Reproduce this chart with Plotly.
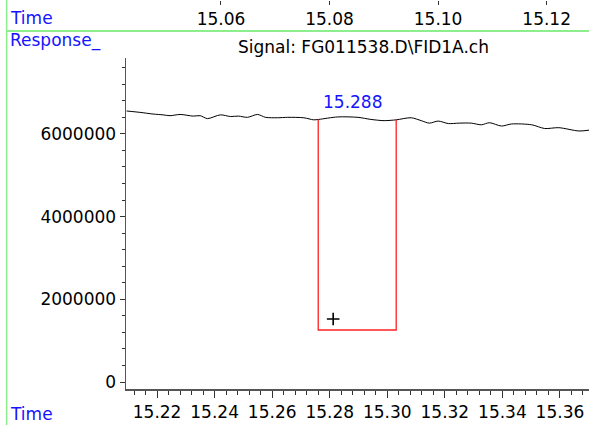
import plotly.graph_objects as go

# ---- data ----
time_min = [15.2094, 15.2141, 15.2186, 15.2221, 15.2245, 15.2280, 15.2326, 15.2350,
            15.2375, 15.2420, 15.2455, 15.2483, 15.2514, 15.2549, 15.2577, 15.2619,
            15.2654, 15.2710, 15.2744, 15.2762, 15.2828, 15.2898, 15.2943, 15.2989,
            15.3031, 15.3083, 15.3118, 15.3146, 15.3177, 15.3212, 15.3250, 15.3292,
            15.3327, 15.3355, 15.3397, 15.3432, 15.3502, 15.3547, 15.3596, 15.3666,
            15.3701]
response = [6554000, 6520000, 6480000, 6460000, 6440000, 6470000, 6430000, 6440000,
            6370000, 6460000, 6420000, 6430000, 6400000, 6470000, 6400000, 6390000,
            6400000, 6390000, 6340000, 6350000, 6410000, 6400000, 6350000, 6320000,
            6340000, 6390000, 6320000, 6260000, 6310000, 6250000, 6260000, 6260000,
            6220000, 6270000, 6190000, 6240000, 6220000, 6130000, 6150000, 6070000,
            6090000]

peak_start = 15.2760
peak_end = 15.3031
peak_top_start = 6350000
peak_top_end = 6340000
peak_baseline = 1258000
peak_label = "15.288"
peak_label_time = 15.288
peak_label_value = 6770000
cursor_time = [15.2812]
cursor_value = [1524000]

bottom_range = [15.2092, 15.3701]
top_range = [15.0425, 15.1278]
y_range = [-169000, 7836000]
y_ticks = [0, 2000000, 4000000, 6000000]
title_text = "Signal: FG011538.D\\FID1A.ch"

BLUE = "#1414ff"
GREEN = "#8cee8c"
FONT = "DejaVu Sans"

fig = go.Figure()

fig.add_trace(go.Scatter(
    x=time_min, y=response, mode="lines",
    line=dict(color="black", width=1, shape="spline", smoothing=0.8),
    hoverinfo="skip"))

fig.add_trace(go.Scatter(
    x=[peak_start, peak_start, peak_end, peak_end],
    y=[peak_top_start, peak_baseline, peak_baseline, peak_top_end],
    mode="lines", line=dict(color="#ff2020", width=1.3), hoverinfo="skip"))

fig.add_trace(go.Scatter(
    x=cursor_time, y=cursor_value, mode="markers",
    marker=dict(symbol="cross-thin", size=9, line=dict(color="black", width=1.6)),
    hoverinfo="skip"))

# invisible trace to carry the top time axis
fig.add_trace(go.Scatter(
    x=top_range, y=[None, None], xaxis="x2", mode="lines",
    line=dict(width=0), hoverinfo="skip", showlegend=False))

fig.add_annotation(x=peak_label_time, y=peak_label_value, text=peak_label,
                   showarrow=False, font=dict(family=FONT, size=17, color=BLUE),
                   xanchor="center", yanchor="middle")

fig.add_annotation(xref="paper", yref="paper", x=-0.2549, y=0.9537, text="Time",
                   showarrow=False, xanchor="left", yanchor="middle",
                   font=dict(family=FONT, size=17, color=BLUE))
fig.add_annotation(xref="paper", yref="paper", x=-0.2549, y=0.897, text="Response_",
                   showarrow=False, xanchor="left", yanchor="middle",
                   font=dict(family=FONT, size=17, color=BLUE))
fig.add_annotation(xref="paper", yref="paper", x=-0.2549, y=-0.0630, text="Time",
                   showarrow=False, xanchor="left", yanchor="middle",
                   font=dict(family=FONT, size=17, color=BLUE))
fig.add_annotation(xref="paper", yref="paper", x=0.512, y=0.879, text=title_text,
                   showarrow=False, xanchor="center", yanchor="middle",
                   font=dict(family=FONT, size=17, color="black"))

# green frame lines
fig.add_shape(type="line", xref="paper", yref="paper", x0=-0.2578, x1=-0.2578,
              y0=-0.0925, y1=1.0, line=dict(color=GREEN, width=1.5))
fig.add_shape(type="line", xref="paper", yref="paper", x0=-0.2578, x1=1.0,
              y0=0.9203, y1=0.9203, line=dict(color=GREEN, width=2))

fig.update_layout(
    width=589, height=425,
    margin=dict(l=126, r=0, t=0, b=36),
    paper_bgcolor="white", plot_bgcolor="white",
    showlegend=False,
    font=dict(family=FONT, size=17, color="black"),
    xaxis=dict(range=bottom_range, dtick=0.02, tick0=15.0, tickformat=".2f",
               ticks="outside", ticklen=7, tickwidth=1, tickcolor="#333",
               showline=True, linecolor="#555", linewidth=1.5,
               showgrid=False, zeroline=False,
               minor=dict(dtick=0.004, ticks="outside", ticklen=4, tickcolor="#333"),
               tickfont=dict(family=FONT, size=17)),
    xaxis2=dict(range=top_range, overlaying="x", anchor="free", position=1.0,
                side="bottom", dtick=0.02, tick0=15.0, tickformat=".2f",
                ticks="outside", ticklen=4, tickcolor="#333",
                showline=False, showgrid=False, zeroline=False,
                tickfont=dict(family=FONT, size=17)),
    yaxis=dict(domain=[0, 0.851], range=y_range, tickvals=y_ticks,
               ticktext=[str(v) for v in y_ticks],
               ticks="outside", ticklen=5, tickcolor="#333",
               showline=True, linecolor="#555", linewidth=1.5,
               showgrid=False, zeroline=False,
               minor=dict(dtick=400000, ticks="outside", ticklen=3, tickcolor="#333"),
               tickfont=dict(family=FONT, size=17)),
)

fig.write_html("out.html",
               config={"displayModeBar": False, "staticPlot": True},
               post_script="document.body.style.margin='0';document.body.style.overflow='hidden';")
